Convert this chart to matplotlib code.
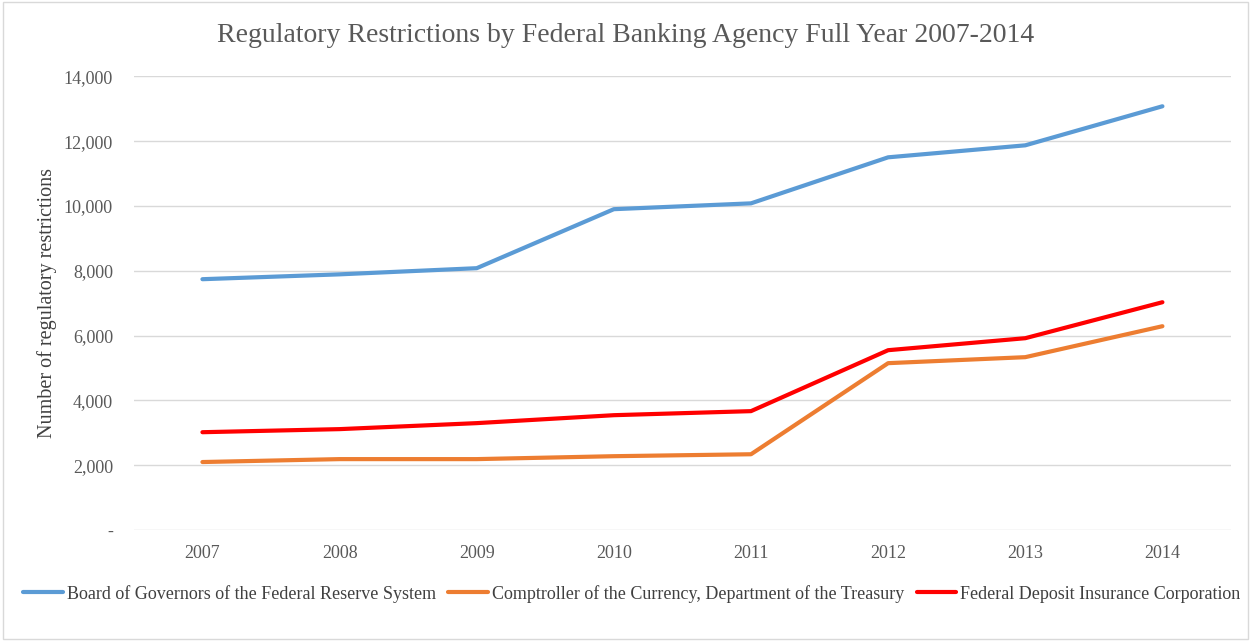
import matplotlib
matplotlib.use("Agg")
import matplotlib.pyplot as plt
from matplotlib.ticker import FuncFormatter
from matplotlib.patches import Rectangle

plt.rcParams["font.family"] = ["Liberation Serif", "DejaVu Serif"]

years = ["2007", "2008", "2009", "2010", "2011", "2012", "2013", "2014"]
fed_reserve = [7740, 7890, 8080, 9900, 10080, 11500, 11870, 13075]
comptroller = [2100, 2190, 2190, 2280, 2340, 5150, 5335, 6290]
fdic = [3020, 3115, 3300, 3545, 3670, 5550, 5920, 7030]

series_names = ["Board of Governors of the Federal Reserve System",
                "Comptroller of the Currency, Department of the Treasury",
                "Federal Deposit Insurance Corporation"]
colors = ["#5b9bd5", "#ed7d31", "#ff0000"]

fig = plt.figure(figsize=(12.51, 6.41), dpi=100)
ax = fig.add_axes([0.107, 0.173, 0.877, 0.708])

x = range(len(years))
for vals, name, c in zip([fed_reserve, comptroller, fdic], series_names, colors):
    ax.plot(x, vals, color=c, linewidth=3, label=name, solid_capstyle="round")

ax.set_xlim(-0.5, len(years) - 0.5)
ax.set_ylim(0, 14000)
ax.set_yticks(range(0, 14001, 2000))
ax.yaxis.set_major_formatter(FuncFormatter(lambda v, p: "-" if v == 0 else f"{int(v):,}"))
ax.set_xticks(list(x))
ax.set_xticklabels(years)
ax.grid(axis="y", color="#d9d9d9", linewidth=1)
ax.set_axisbelow(True)
for s in ax.spines.values():
    s.set_visible(False)
ax.tick_params(length=0, labelsize=13, colors="#595959")
ax.tick_params(axis="x", pad=11)
ax.tick_params(axis="y", pad=15)
ax.set_ylabel("Number of regulatory restrictions", fontsize=14.5, color="#404040", labelpad=5)

fig.suptitle("Regulatory Restrictions by Federal Banking Agency Full Year 2007-2014",
             fontsize=20, color="#595959", y=0.944, va="center")

fig.legend(loc="center", bbox_to_anchor=(0.505, 0.074), ncol=3, frameon=False,
           fontsize=13, handlelength=2.2, handletextpad=0.2, columnspacing=0.7,
           labelcolor="#404040")

fig.patches.append(Rectangle((0.002, 0.003), 0.996, 0.994, transform=fig.transFigure,
                             fill=False, edgecolor="#d9d9d9", linewidth=1))

fig.savefig("out.png", dpi=100)
